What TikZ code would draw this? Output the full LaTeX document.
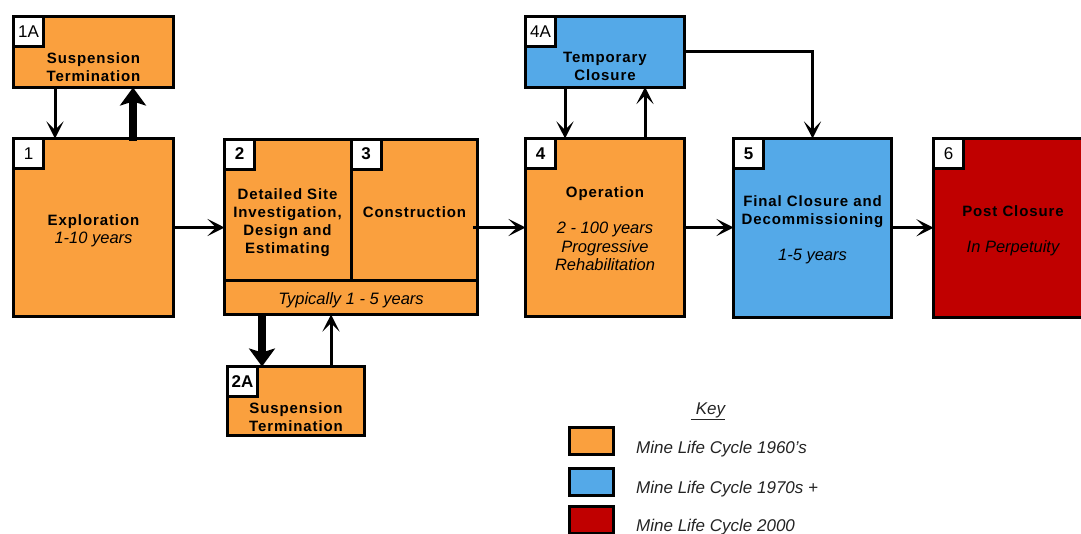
\documentclass[tikz,border=0pt]{standalone}
\usepackage{fontspec}
\setmainfont{Liberation Sans}
\newfontfamily\tfont[LetterSpace=6]{Liberation Sans}
\usetikzlibrary{arrows.meta}
\definecolor{orng}{RGB}{250,160,62}
\definecolor{blu}{RGB}{84,169,232}
\definecolor{rd}{RGB}{192,0,0}
\definecolor{keytxt}{RGB}{35,35,35}
\begin{document}
\begin{tikzpicture}[x=1pt,y=-1pt,
  box/.style={draw=black,line width=3pt,inner sep=0pt,outer sep=0pt,rectangle},
  lab/.style={draw=black,fill=white,line width=3pt,inner sep=0pt,outer sep=0pt,minimum width=30pt,minimum height=30pt,font=\fontsize{17}{17}\selectfont,anchor=north west},
  ttl/.style={anchor=north,inner sep=0pt,align=center,font=\tfont\bfseries\fontsize{15}{18.3}\selectfont},
  sub/.style={anchor=north,inner sep=0pt,align=center,font=\itshape\fontsize{16.5}{18.5}\selectfont},
  keyt/.style={anchor=base west,inner sep=0pt,text=keytxt,font=\itshape\fontsize{17}{17}\selectfont},
  arr/.style={line width=3pt,-{Stealth[length=17pt,width=17pt,inset=8.5pt]}},
  bigarr/.style={line width=8pt,-{Stealth[length=18pt,width=26pt,inset=4pt]}},
]
\useasboundingbox (0,0) rectangle (1081,533);

% boxes
\node[box,fill=orng,minimum width=159.5pt,minimum height=71pt] (n1A) at (93.25,52) {};
\node[box,fill=orng,minimum width=160pt,minimum height=178pt] (n1) at (93.5,227.5) {};
\node[box,fill=orng,minimum width=126.5pt,minimum height=141pt] (n2) at (287.75,209.5) {};
\node[box,fill=orng,minimum width=126.5pt,minimum height=141pt] (n3) at (414.25,209.5) {};
\node[box,fill=orng,minimum width=253pt,minimum height=34.5pt] (nbar) at (351,297.25) {};
\node[box,fill=orng,minimum width=137pt,minimum height=69pt] (n2A) at (296,401) {};
\node[box,fill=blu,minimum width=159pt,minimum height=70.5pt] (n4A) at (605,51.75) {};
\node[box,fill=orng,minimum width=159pt,minimum height=178pt] (n4) at (605,227.5) {};
\node[box,fill=blu,minimum width=158pt,minimum height=178.5pt] (n5) at (812.5,227.75) {};
\node[box,fill=rd,minimum width=160.5pt,minimum height=178.5pt] (n6) at (1013.75,227.75) {};

% number labels
\node[lab] (l1A) at (n1A.north west) {1A};
\node[lab] (l1) at (n1.north west) {1};
\node[lab] (l2) at (n2.north west) {\bfseries 2};
\node[lab] (l3) at (n3.north west) {\bfseries 3};
\node[lab] (l2A) at (n2A.north west) {\bfseries 2A};
\node[lab] (l4A) at (n4A.north west) {4A};
\node[lab] (l4) at (n4.north west) {\bfseries 4};
\node[lab] (l5) at (n5.north west) {\bfseries 5};
\node[lab] (l6) at (n6.north west) {6};

% texts
\node[ttl] (t1A) at (93.5,52) {Suspension\\Termination};
\node[ttl] (t1) at (93.5,214) {Exploration};
\node[sub] (s1) at (93.5,232) {1-10 years};
\node[ttl] (t2) at (287.5,188) {Detailed Site\\Investigation,\\Design and\\Estimating};
\node[ttl] (t3) at (414.5,206) {Construction};
\node[sub,anchor=base] (sbar) at (351,304) {Typically 1 - 5 years};
\node[ttl] (t2A) at (296,402) {Suspension\\Termination};
\node[ttl] (t4A) at (605,52) {Temporary\\Closure};
\node[ttl] (t4) at (605,186) {Operation};
\node[sub] (s4) at (605,222) {2 - 100 years\\Progressive\\Rehabilitation};
\node[ttl] (t5) at (812.5,195) {Final Closure and\\Decommissioning};
\node[sub] (s5) at (812.5,249) {1-5 years};
\node[ttl] (t6) at (1013,205) {Post Closure};
\node[sub] (s6) at (1013,240) {In Perpetuity};

% connector x positions
\coordinate (x55) at (55,0);
\coordinate (x133) at (133,0);
\coordinate (x262) at (262,0);
\coordinate (x331) at (331,0);
\coordinate (x565) at (565,0);
\coordinate (x645) at (645,0);
\coordinate (s3) at (473,227.5);

% connectors
\draw[arr] (n1A.south -| x55) -- (n1.north -| x55);
\draw[bigarr] ([yshift=-2pt]n1.north -| x133) -- (n1A.south -| x133);
\draw[arr] (n1.east) -- (n1.east -| n2.west);
\draw[arr] (s3) -- (s3 -| n4.west);
\draw[bigarr] (nbar.south -| x262) -- (n2A.north -| x262);
\draw[arr] (n2A.north -| x331) -- (nbar.south -| x331);
\draw[arr] (n4A.south -| x565) -- (n4.north -| x565);
\draw[arr] (n4.north -| x645) -- (n4A.south -| x645);
\draw[arr] (n4A.east) -| (n5.north);
\draw[arr] (n4.east) -- (n4.east -| n5.west);
\draw[arr] (n5.east) -- (n5.east -| n6.west);

% key
\node[anchor=base,inner sep=0pt,text=keytxt,font=\itshape\fontsize{17}{17}\selectfont] (keyh) at (708,414) {\underline{\hspace{5pt}Key}};
\node[box,fill=orng,minimum width=44pt,minimum height=27pt] (k1) at (591.5,441) {};
\node[box,fill=blu,minimum width=44pt,minimum height=27pt] (k2) at (591.5,482) {};
\node[box,fill=rd,minimum width=44pt,minimum height=27pt] (k3) at (591.5,519.5) {};
\node[keyt] (kt1) at (636,453) {Mine Life Cycle 1960's};
\node[keyt] (kt2) at (636,493) {Mine Life Cycle 1970s +};
\node[keyt] (kt3) at (636,531) {Mine Life Cycle 2000};
\end{tikzpicture}
\end{document}
